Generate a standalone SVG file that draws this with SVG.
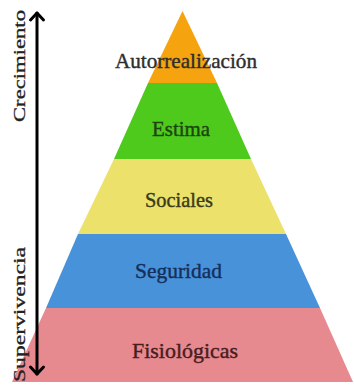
<svg xmlns="http://www.w3.org/2000/svg" width="354" height="386" viewBox="0 0 354 386">
<style>
.lbl{font-family:"Liberation Serif","Times New Roman",serif;font-size:21px;text-anchor:middle;stroke-width:0.4}
.side{font-family:"Liberation Serif","Times New Roman",serif;font-size:17px;text-anchor:middle;fill:#222;stroke:#222;stroke-width:0.3}
.axis{stroke:#000;stroke-width:3;fill:none;stroke-linecap:round;stroke-linejoin:round}
</style>
<rect width="354" height="386" fill="#ffffff"/>
<g id="autorrealizacion">
<polygon points="182.5,11 217,83 148,83" fill="#F5A30F"/>
<text class="lbl" x="186" y="68" fill="#2e2e2e" stroke="#2e2e2e" textLength="142" lengthAdjust="spacingAndGlyphs">Autorrealización</text>
</g>
<g id="estima">
<polygon points="148,83 217,83 251,159 114,159" fill="#4ECA1C"/>
<text class="lbl" x="181" y="136" fill="#1d4512" stroke="#1d4512" textLength="58" lengthAdjust="spacingAndGlyphs">Estima</text>
</g>
<g id="sociales">
<polygon points="114,159 251,159 286,234 78,234" fill="#ECE26B"/>
<text class="lbl" x="179" y="207" fill="#3a3a1c" stroke="#3a3a1c" textLength="68" lengthAdjust="spacingAndGlyphs">Sociales</text>
</g>
<g id="seguridad">
<polygon points="78,234 286,234 320,308 46,308" fill="#4892DA"/>
<text class="lbl" x="178.5" y="278" fill="#152f5a" stroke="#152f5a" textLength="87" lengthAdjust="spacingAndGlyphs">Seguridad</text>
</g>
<g id="fisiologicas">
<polygon points="46,308 320,308 353,382 12,382" fill="#E68A90"/>
<text class="lbl" x="185" y="358" fill="#4a1c20" stroke="#4a1c20" textLength="106" lengthAdjust="spacingAndGlyphs">Fisiológicas</text>
</g>
<g id="connectors">
<line class="axis" x1="37" y1="13" x2="37" y2="374"/>
<polyline class="axis" points="30.5,20 37,13 43.5,20"/>
<polyline class="axis" points="30.5,367 37,374 43.5,367"/>
</g>
<g id="labels">
<text class="side" transform="translate(25,66) rotate(-90)" textLength="112" lengthAdjust="spacingAndGlyphs">Crecimiento</text>
<text class="side" transform="translate(25,314.5) rotate(-90)" textLength="135" lengthAdjust="spacingAndGlyphs">Supervivencia</text>
</g>
</svg>
